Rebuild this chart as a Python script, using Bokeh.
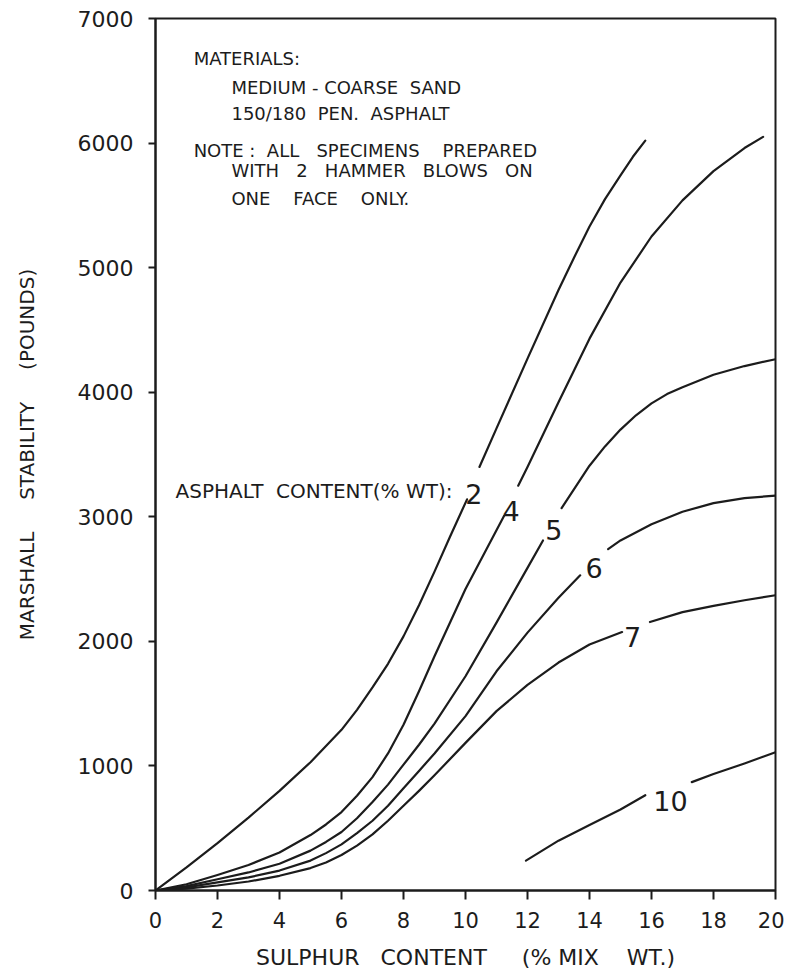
from bokeh.plotting import figure
from bokeh.models import Range1d, FixedTicker, ColumnDataSource
from bokeh.core.properties import value
from bokeh.embed import file_html
from bokeh.resources import INLINE

nan = float("nan")
NB = "\u00a0"


def sp(n):
    return " " + NB * (n - 1)


# ---- data (sulphur content %, Marshall stability lb) ----
# curves are interrupted where their asphalt-content label sits (nan = break)
a2_x = [0, 1, 2, 3, 4, 5, 6, 6.5, 7, 7.5, 8, 8.5, 9, 9.5, 10.05, nan,
        10.45, 11, 12, 13, 13.5, 14, 14.5, 15, 15.4, 15.8]
a2_y = [0, 185, 380, 585, 800, 1030, 1290, 1450, 1630, 1820, 2040, 2290, 2560, 2840, 3140, nan,
        3400, 3710, 4270, 4820, 5080, 5330, 5550, 5740, 5890, 6020]

a4_x = [0, 1, 2, 3, 4, 5, 5.5, 6, 6.5, 7, 7.5, 8, 8.5, 9, 10, 11.25, nan,
        11.7, 12, 13, 14, 15, 16, 17, 18, 19, 19.6]
a4_y = [0, 50, 125, 205, 305, 445, 530, 630, 760, 910, 1100, 1330, 1600, 1880, 2420, 3010, nan,
        3250, 3400, 3920, 4430, 4880, 5250, 5540, 5775, 5960, 6050]

a5_x = [0, 1, 2, 3, 4, 5, 5.5, 6, 6.5, 7, 7.5, 8, 8.5, 9, 10, 11, 12, 12.5, nan,
        13.1, 14, 14.5, 15, 15.5, 16, 16.5, 17, 18, 19, 20]
a5_y = [0, 35, 90, 145, 215, 320, 390, 470, 580, 710, 850, 1010, 1170, 1340, 1720, 2150, 2590, 2810, nan,
        3070, 3410, 3565, 3700, 3815, 3910, 3985, 4040, 4140, 4210, 4265]

a6_x = [0, 1, 2, 3, 4, 5, 5.5, 6, 6.5, 7, 7.5, 8, 8.5, 9, 10, 11, 12, 13, 13.7, nan,
        14.6, 15, 16, 17, 18, 19, 20]
a6_y = [0, 25, 65, 105, 160, 240, 300, 370, 460, 560, 680, 820, 960, 1100, 1400, 1760, 2070, 2350, 2530, nan,
        2740, 2810, 2940, 3040, 3110, 3150, 3170]

a7_x = [0, 1, 2, 3, 4, 5, 5.5, 6, 6.5, 7, 7.5, 8, 8.5, 9, 10, 11, 12, 13, 14, 15.05, nan,
        15.95, 17, 18, 19, 20]
a7_y = [0, 15, 40, 72, 118, 180, 225, 285, 360, 450, 560, 680, 800, 925, 1185, 1440, 1650, 1830, 1975, 2075, nan,
        2155, 2235, 2285, 2330, 2370]

a10_x = [11.95, 13, 14, 15, 15.8, nan, 17.3, 18, 19, 20]
a10_y = [240, 400, 525, 650, 765, nan, 870, 935, 1020, 1110]

curve_labels = ["2", "4", "5", "6", "7", "10"]
curve_label_x = [10.27, 11.47, 12.85, 14.15, 15.39, 16.61]
curve_label_y = [3179, 3050, 2890, 2585, 2031, 722]

x_ticks = [0, 2, 4, 6, 8, 10, 12, 14, 16, 18, 20]
y_ticks = [0, 1000, 2000, 3000, 4000, 5000, 6000, 7000]

note_lines = [
    "MATERIALS:",
    "MEDIUM" + sp(1) + "-" + sp(1) + "COARSE" + sp(2) + "SAND",
    "150/180" + sp(2) + "PEN." + sp(2) + "ASPHALT",
    "NOTE" + sp(1) + ":" + sp(2) + "ALL" + sp(3) + "SPECIMENS" + sp(4) + "PREPARED",
    "WITH" + sp(3) + "2" + sp(3) + "HAMMER" + sp(3) + "BLOWS" + sp(3) + "ON",
    "ONE" + sp(4) + "FACE" + sp(4) + "ONLY.",
]
note_x = [1.23, 2.45, 2.45, 1.23, 2.45, 2.45]
note_y = [6679, 6446, 6237, 5941, 5780, 5555]

INK = "#1c1c1c"
FONT = "DejaVu Sans"

p = figure(
    width=784, height=976,
    x_range=Range1d(0, 20), y_range=Range1d(0, 7000),
    output_backend="svg", toolbar_location=None,
    min_border_left=155, min_border_right=9, min_border_top=18, min_border_bottom=86,
)
p.grid.visible = False
p.background_fill_color = "white"
p.border_fill_color = "white"
p.outline_line_color = INK
p.outline_line_width = 2

for ax in (p.xaxis, p.yaxis):
    ax.axis_line_color = INK
    ax.axis_line_width = 2
    ax.major_tick_line_color = INK
    ax.major_tick_line_width = 2
    ax.major_tick_in = 0
    ax.minor_tick_line_color = None
    ax.major_label_text_font = FONT
    ax.major_label_text_color = INK
    ax.axis_label_text_font = FONT
    ax.axis_label_text_font_style = "normal"
    ax.axis_label_text_color = INK

p.xaxis.ticker = FixedTicker(ticks=x_ticks)
p.xaxis.major_tick_out = 9
p.xaxis.major_label_standoff = 12
p.xaxis.major_label_text_font_size = "21px"
p.xaxis.axis_label = "SULPHUR" + sp(3) + "CONTENT" + sp(5) + "(%" + sp(1) + "MIX" + sp(4) + "WT.)"
p.xaxis.axis_label_text_font_size = "22px"
p.xaxis.axis_label_standoff = 14

p.yaxis.ticker = FixedTicker(ticks=y_ticks)
p.yaxis.major_tick_out = 7
p.yaxis.major_label_standoff = 15
p.yaxis.major_label_text_font_size = "22px"
p.yaxis.axis_label = "MARSHALL" + sp(5) + "STABILITY" + sp(5) + "(POUNDS)"
p.yaxis.axis_label_text_font_size = "20px"
p.yaxis.axis_label_standoff = 36

for xs, ys in [(a2_x, a2_y), (a4_x, a4_y), (a5_x, a5_y), (a6_x, a6_y), (a7_x, a7_y), (a10_x, a10_y)]:
    p.line(xs, ys, line_color=INK, line_width=2.2, line_join="round", line_cap="round")

lab_src = ColumnDataSource(dict(x=curve_label_x, y=curve_label_y, t=curve_labels))
p.text(x="x", y="y", text="t", source=lab_src, text_font=value(FONT), text_font_size="27px",
       text_color=INK, text_align="center", text_baseline="alphabetic")

p.text(x=[9.58], y=[3211], text=["ASPHALT" + sp(2) + "CONTENT(%" + sp(1) + "WT):"],
       text_font=value(FONT), text_font_size="20px", text_color=INK,
       text_align="right", text_baseline="alphabetic")

note_src = ColumnDataSource(dict(x=note_x, y=note_y, t=note_lines))
p.text(x="x", y="y", text="t", source=note_src, text_font=value(FONT), text_font_size="18px",
       text_color=INK, text_align="left", text_baseline="alphabetic")

open("out.html", "w").write(file_html(p, INLINE))
